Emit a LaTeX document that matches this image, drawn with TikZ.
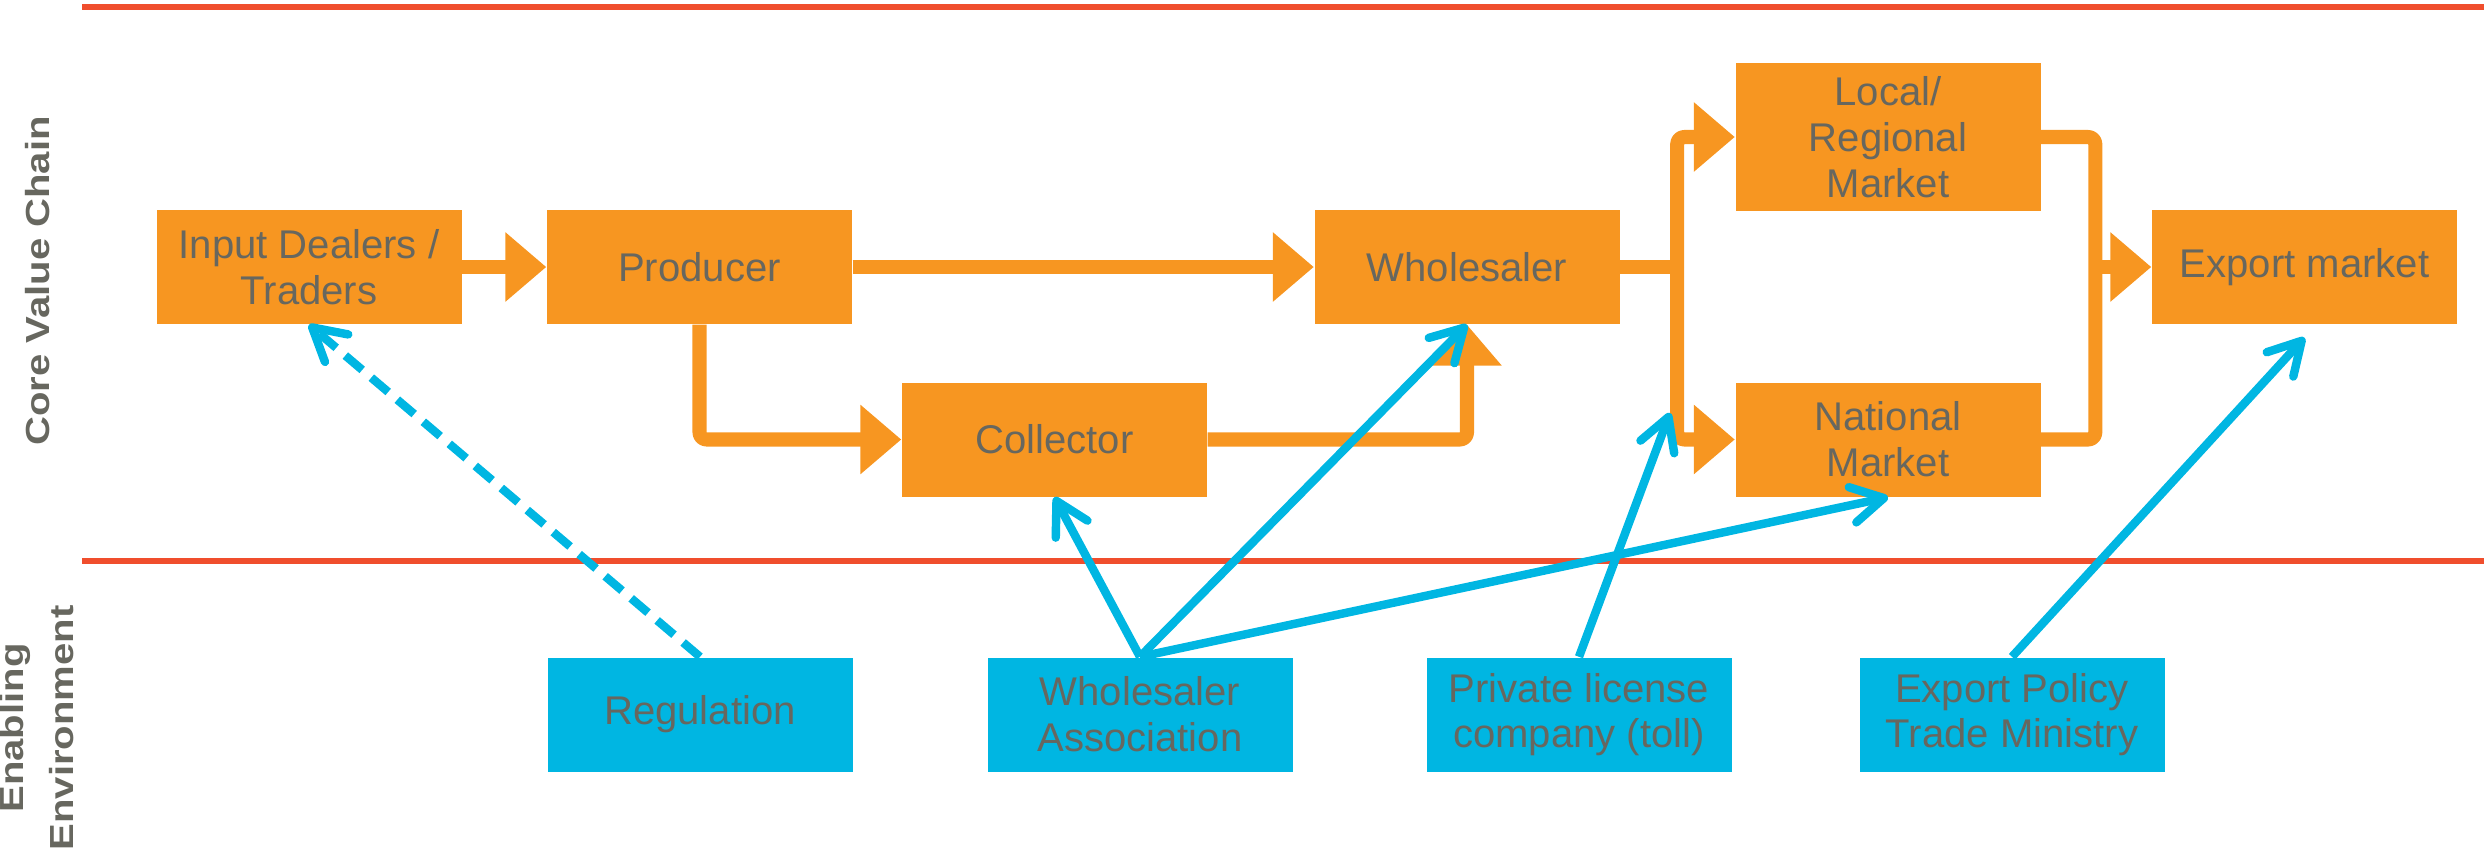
\documentclass[tikz,border=0pt]{standalone}
\usepackage{fontspec}
\setmainfont{Liberation Sans}
\usepackage{graphicx}
\usetikzlibrary{arrows.meta,positioning,calc}
\definecolor{chainorange}{RGB}{247,150,33}
\definecolor{envblue}{RGB}{0,182,226}
\definecolor{linered}{RGB}{240,78,45}
\definecolor{labelgray}{RGB}{103,103,95}
\begin{document}
\begin{tikzpicture}[chain/.style={rectangle,fill=chainorange,text=labelgray,minimum width=3.05cm,minimum height=1.14cm,align=center,inner sep=0pt,font=\fontsize{11.4}{13}\selectfont},
	env/.style={chain,fill=envblue},
	flow/.style={draw=chainorange,line width=4pt,line join=round,-{Triangle[length=0.41cm,width=0.67cm]}},
	link/.style={draw=envblue,line width=2.4pt,-{Straight Barb[length=0.32cm,width=0.36cm,round]}},
	side/.style={rotate=90,text=labelgray,align=center,font=\fontsize{9.5}{14.2}\selectfont\bfseries}]
		\useasboundingbox (0,0) rectangle (24.84,-8.51);
		\draw[linered,line width=1.8pt] (0.82,-0.07) -- (24.84,-0.07);
		\draw[linered,line width=1.8pt] (0.82,-5.61) -- (24.84,-5.61);
		\node[side] (cvc) at (0.38,-2.81) {\scalebox{1.2}[1]{Core Value Chain}};
		\node[side] (ee) at (0.365,-7.28) {\scalebox{1.2}[1]{Enabling}\\\scalebox{1.2}[1]{Environment}};
		\node[chain] (input) at (3.09,-2.67) {Input Dealers /\\Traders};
		\node[chain] (producer) at (6.995,-2.67) {Producer};
		\node[chain] (collector) at (10.545,-4.395) {Collector};
		\node[chain] (wholesaler) at (14.67,-2.67) {Wholesaler};
		\node[chain,minimum height=1.48cm] (local) at (18.88,-1.37) {Local/\\Regional\\Market};
		\node[chain] (national) at (18.88,-4.395) {National\\Market};
		\node[chain] (export) at (23.045,-2.67) {Export market};
		\node[env] (regulation) at (7.0,-7.145) {Regulation};
		\node[env] (wa) at (11.4,-7.145) {Wholesaler\\Association};
		\node[env] (toll) at (15.79,-7.145) {Private license\\company (toll)};
		\node[env] (policy) at (20.12,-7.145) {Export Policy\\Trade Ministry};
		\draw[flow] (input) -- (producer);
		\draw[flow] (producer) -- (wholesaler);
		\draw[flow,rounded corners=2pt] (producer.south) |- (collector.west);
		\draw[flow,rounded corners=2pt] (collector.east) -| (wholesaler.south);
		\draw[chainorange,line width=4pt] (wholesaler.east) -- ++(0.57,0) coordinate (split);
		\draw[flow,rounded corners=2pt] (split) |- (local.west);
		\draw[flow,rounded corners=2pt] (split) |- (national.west);
		\coordinate (merge) at ($(export.west)+(-0.56,0)$);
		\draw[chainorange,line width=4pt,line join=round,rounded corners=2pt] (local.east) -| (merge) |- (national.east);
		\draw[flow] (merge) -- (export.west);
		\coordinate (tollend) at (16.70,-4.13);
		\coordinate (policyend) at ($(export.south)+(0,-0.13)$);
		\draw[link,dash pattern=on 6.3pt off 3.4pt] (regulation.north) -- (input.south);
		\draw[link] (wa.north) -- (collector.south);
		\draw[link] (wa.north) -- (wholesaler.south);
		\draw[link] (wa.north) -- (national.south);
		\draw[link] (toll.north) -- (tollend);
		\draw[link] (policy.north) -- (policyend);
	\end{tikzpicture}
\end{document}
